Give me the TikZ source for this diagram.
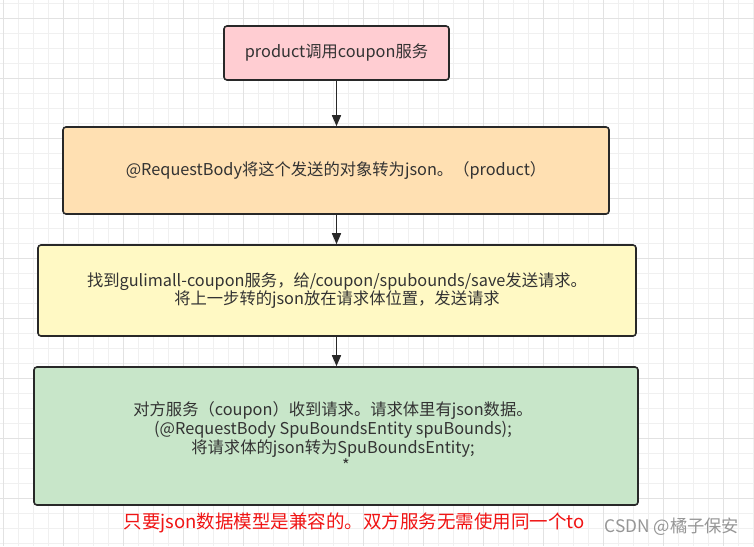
\documentclass[tikz,border=0pt]{standalone}
\usepackage{fontspec}
\setmainfont{Noto Sans CJK SC}
\usetikzlibrary{arrows.meta}
\definecolor{gridminor}{RGB}{240,240,240}
\definecolor{gridmajor}{RGB}{226,226,226}
\definecolor{edgec}{RGB}{40,40,40}
\definecolor{txtc}{RGB}{51,51,51}
\definecolor{pinkf}{RGB}{255,205,210}
\definecolor{orangef}{RGB}{255,224,178}
\definecolor{yellowf}{RGB}{255,249,196}
\definecolor{greenf}{RGB}{200,230,201}
\definecolor{redt}{RGB}{240,20,20}
\definecolor{wmark}{RGB}{150,150,150}
\tikzset{
  flowbox/.style={draw=edgec, line width=1.6pt, rounded corners=3pt, inner sep=0pt, text=txtc, align=center, font=\fontsize{16.3}{18.8}\selectfont},
  flowarrow/.style={draw=edgec, line width=1.6pt, -{Triangle[length=11pt,width=9pt]}}
}
\begin{document}
\begin{tikzpicture}[x=1pt,y=-1pt]
\useasboundingbox (0,0) rectangle (754,546);
\fill[white] (0,0) rectangle (754,546);
\foreach \i in {0,...,50} {
  \draw[gridminor, line width=0.8pt] (3+15*\i,0) -- (3+15*\i,546);
}
\foreach \j in {0,...,36} {
  \draw[gridminor, line width=0.8pt] (0,3+15*\j) -- (754,3+15*\j);
}
\foreach \i in {0,...,12} {
  \draw[gridmajor, line width=0.8pt] (3+60*\i,0) -- (3+60*\i,546);
}
\foreach \j in {0,...,9} {
  \draw[gridmajor, line width=0.8pt] (0,18+60*\j) -- (754,18+60*\j);
}

\node[flowbox, fill=pinkf, minimum width=225pt, minimum height=54pt] (b1) at (336.5,53) {product调用coupon服务};
\node[flowbox, fill=orangef, minimum width=546pt, minimum height=87pt] (b2) at (336,170.5) {@RequestBody将这个发送的对象转为json。（product）};
\node[flowbox, fill=yellowf, minimum width=598pt, minimum height=91pt] (b3) at (337,290.5) {找到gulimall-coupon服务，给/coupon/spubounds/save发送请求。\\将上一步转的json放在请求体位置，发送请求};
\node[flowbox, fill=greenf, minimum width=604pt, minimum height=138pt] (b4) at (336,436) {};
\node[text=txtc, align=center, font=\fontsize{16.3}{18.8}\selectfont, anchor=north] (t4) at (333,398) {对方服务（coupon）收到请求。请求体里有json数据。\\(@RequestBody SpuBoundsEntity spuBounds);\\将请求体的json转为SpuBoundsEntity;\\\hspace*{26pt}*};

\draw[flowarrow] (b1.south) -- (b1.south |- b2.north);
\draw[flowarrow] (b1.south |- b2.south) -- (b1.south |- b3.north);
\draw[flowarrow] (b1.south |- b3.south) -- (b1.south |- b4.north);

\node[text=redt, font=\fontsize{18.5}{22}\selectfont, anchor=west] (note) at (120,523) {只要json数据模型是兼容的。双方服务无需使用同一个to};
\node[text=wmark, font=\fontsize{17.3}{20}\selectfont, anchor=west] (wm) at (601,527) {CSDN @橘子保安};
\end{tikzpicture}
\end{document}
